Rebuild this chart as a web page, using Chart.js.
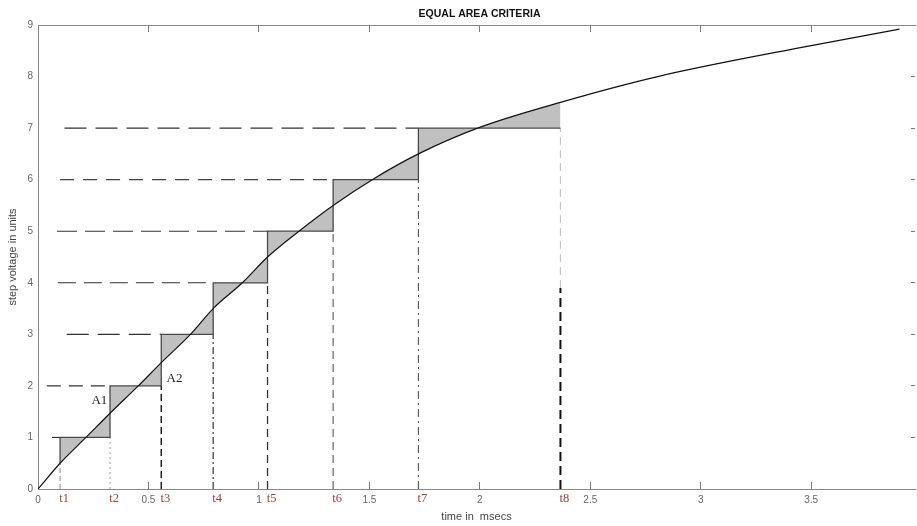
<!DOCTYPE html>
<html><head><meta charset="utf-8">
<script src="https://cdn.jsdelivr.net/npm/chart.js@4/dist/chart.umd.min.js"></script>
<style>html,body{margin:0;padding:0;background:#fff}#wrap{width:917px;height:526px;position:relative}</style>
</head><body><div id="wrap"><canvas id="c" width="917" height="526"></canvas></div>
<script>
// ---- data ----
const curveX = [0, 0.1, 0.217, 0.326, 0.454, 0.558, 0.69, 0.793, 0.925, 1.039, 1.181, 1.336, 1.513, 1.722, 1.99, 2.365, 2.805, 3.5, 3.9];
const curveY = [0, 0.5, 1, 1.47, 2, 2.45, 3, 3.5, 4, 4.5, 5, 5.5, 6, 6.5, 7, 7.5, 8, 8.6, 8.92];
const stepTimes = [0.1, 0.326, 0.558, 0.793, 1.039, 1.336, 1.722, 2.365];
const stepLevels = [1, 2, 3, 4, 5, 6, 7, 7];
const stepLabels = ['t1', 't2', 't3', 't4', 't5', 't6', 't7', 't8'];
const levelLineStart = [0.063, 0.04, 0.13, 0.09, 0.086, 0.1, 0.12];
const t8SplitLevel = 3.9;
const xTickValues = [0, 0.5, 1, 1.5, 2, 2.5, 3, 3.5];
const yTickValues = [0, 1, 2, 3, 4, 5, 6, 7, 8, 9];
const areaLabels = ['A1', 'A2'];
const areaLabelX = [0.278, 0.618];
const areaLabelY = [1.72, 2.15];
const titleText = 'EQUAL AREA CRITERIA';
const xTitle = 'time in  msecs';
const yTitle = 'step voltage in units';

// ---- styles ----
const hStyles = [
  {c:'#333', d:[10,8], w:1.1},
  {c:'#333', d:[14,8], w:1.1},
  {c:'#333', d:[22,9], w:1.1},
  {c:'#333', d:[18,8], w:1.1},
  {c:'#333', d:[20,8], w:1.1},
  {c:'#444', d:[14,9], w:1.1},
  {c:'#333', d:[22,9], w:1.1}
];
const vStyles = [
  {c:'#888', d:[5,3], w:1},
  {c:'#999', d:[2,3], w:1},
  {c:'#222', d:[7,4], w:1.5},
  {c:'#333', d:[7,3,2,3], w:1.2},
  {c:'#333', d:[8,5], w:1.3},
  {c:'#666', d:[8,5], w:1.2},
  {c:'#555', d:[8,4,2,4], w:1.1},
  {c:'#111', d:[9,5], w:2}
];

const curveData = curveX.map((x, i) => ({x, y: curveY[i]}));
const startY = curveY[curveX.indexOf(stepTimes[0])];
const stepData = [{x: stepTimes[0], y: startY}].concat(stepTimes.map((t, i) => ({x: t, y: stepLevels[i]})));

const datasets = [
  {data: curveData, borderColor:'#111', borderWidth:1.2, pointRadius:0, cubicInterpolationMode:'monotone', fill:false},
  {data: stepData, stepped:'before', borderColor:'#4a4a4a', borderWidth:1.3, backgroundColor:'#c0c0c0', fill:'-1', pointRadius:0}
];
// horizontal dashed level lines
for (let k = 0; k < 7; k++) {
  const s = hStyles[k];
  datasets.push({data:[{x: levelLineStart[k], y: stepLevels[k]}, {x: stepTimes[k], y: stepLevels[k]}],
    borderColor:s.c, borderDash:s.d, borderWidth:s.w, pointRadius:0, fill:false});
}
// vertical dashed time lines
for (let k = 0; k < 8; k++) {
  const s = vStyles[k];
  const top = k === 0 ? startY : stepLevels[k - 1];
  if (k === 7) {
    datasets.push({data:[{x: stepTimes[k], y: t8SplitLevel}, {x: stepTimes[k], y: top}],
      borderColor:'#c4c4c4', borderDash:[8,5], borderWidth:1.2, pointRadius:0, fill:false});
    datasets.push({data:[{x: stepTimes[k], y: 0}, {x: stepTimes[k], y: t8SplitLevel}],
      borderColor:s.c, borderDash:s.d, borderWidth:s.w, pointRadius:0, fill:false});
  } else {
    datasets.push({data:[{x: stepTimes[k], y: 0}, {x: stepTimes[k], y: top}],
      borderColor:s.c, borderDash:s.d, borderWidth:s.w, pointRadius:0, fill:false});
  }
}

const textPlugin = {
  id: 'texts',
  afterDraw(chart) {
    const {ctx, chartArea} = chart;
    const x = chart.scales.x, y = chart.scales.y;
    ctx.save();
    ctx.textAlign = 'center';
    ctx.textBaseline = 'middle';
    ctx.fillStyle = '#111';
    ctx.font = 'bold 10.5px "Liberation Sans", Arial, sans-serif';
    ctx.fillText(titleText, (chartArea.left + chartArea.right) / 2 + 3, 14);
    ctx.font = '12.5px "Liberation Serif", "Times New Roman", serif';
    ctx.fillStyle = '#a83c3c';
    stepTimes.forEach((t, i) => ctx.fillText(stepLabels[i], x.getPixelForValue(t) + 4, x.top + 10));
    ctx.fillStyle = '#222';
    ctx.font = '13px "Liberation Serif", "Times New Roman", serif';
    areaLabels.forEach((s, i) => ctx.fillText(s, x.getPixelForValue(areaLabelX[i]), y.getPixelForValue(areaLabelY[i])));
    ctx.restore();
  }
};

Chart.defaults.font.family = '"Liberation Sans", Arial, sans-serif';

new Chart(document.getElementById('c'), {
  type: 'line',
  data: {datasets},
  options: {
    responsive: false,
    animation: false,
    layout: {padding: {top: 25, right: 1, left: 0, bottom: 0}},
    plugins: {legend: {display:false}, tooltip: {enabled:false}, title: {display:false}},
    scales: {
      x: {type:'linear', position:'bottom', min:0, max:3.97,
        afterBuildTicks: s => { s.ticks = xTickValues.map(v => ({value: v})); },
        ticks: {color:'#666', font:{size:10}, padding:12, autoSkip:false, maxRotation:0, callback: v => String(v)},
        grid: {drawOnChartArea:false, tickLength:-7, color:'#777', lineWidth:1},
        border: {display:true, color:'#888', width:1},
        title: {display:true, text:xTitle, color:'#444', font:{size:11}, padding:{top:0, bottom:2}},
        afterFit: s => { s.height = 37; }
      },
      xTop: {type:'linear', position:'top', min:0, max:3.97,
        afterBuildTicks: s => { s.ticks = xTickValues.map(v => ({value: v})); },
        ticks: {display:false},
        grid: {drawOnChartArea:false, tickLength:-7, color:'#777', lineWidth:1},
        border: {display:true, color:'#888', width:1},
        afterFit: s => { s.height = 0; }
      },
      y: {type:'linear', position:'left', min:0, max:9,
        afterBuildTicks: s => { s.ticks = yTickValues.map(v => ({value: v})); },
        ticks: {color:'#666', font:{size:10}, padding:5},
        grid: {drawOnChartArea:false, drawTicks:false},
        border: {display:true, color:'#888', width:1},
        title: {display:true, text:yTitle, color:'#444', font:{size:11}, padding:{top:6, bottom:0}},
        afterFit: s => { s.width = 38; }
      },
      yRight: {type:'linear', position:'right', min:0, max:9,
        afterBuildTicks: s => { s.ticks = yTickValues.map(v => ({value: v})); },
        ticks: {display:false},
        grid: {drawOnChartArea:false, tickLength:-4, color:'#777', lineWidth:1},
        border: {display:false},
        afterFit: s => { s.width = 1; }
      }
    }
  },
  plugins: [textPlugin]
});
</script></body></html>
